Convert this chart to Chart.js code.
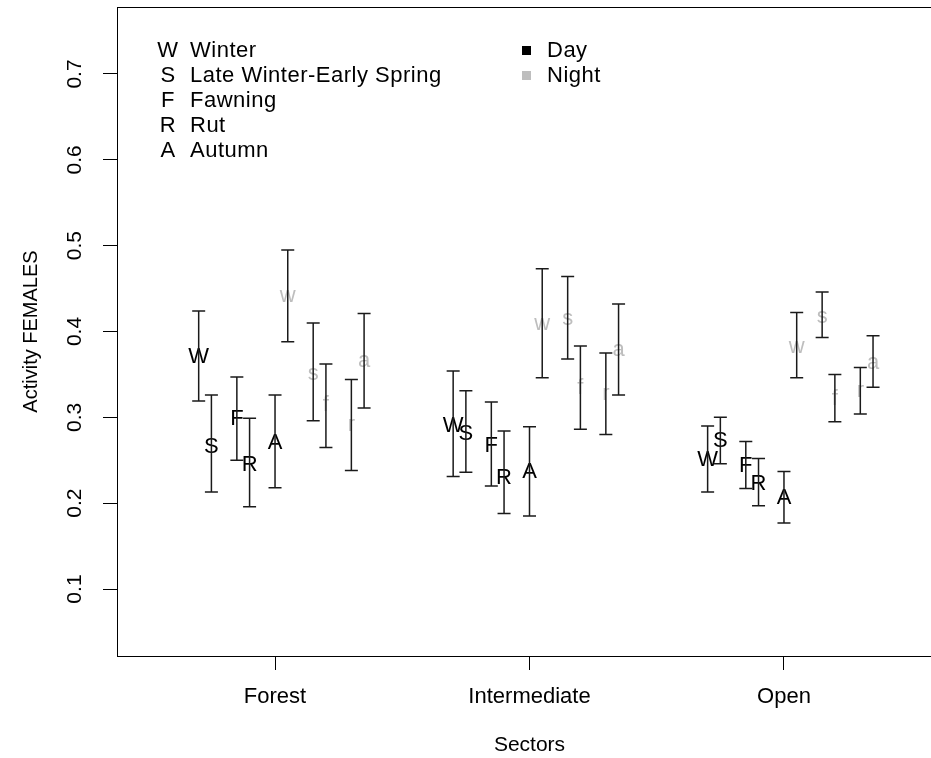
<!DOCTYPE html>
<html lang="en">
<head>
<meta charset="UTF-8">
<title>Activity FEMALES by sector</title>
<script src="https://cdn.jsdelivr.net/npm/chart.js"></script>
<style>
  html, body { margin: 0; padding: 0; background: #fff; overflow: hidden; }
  #wrap { width: 931px; height: 758px; overflow: hidden; }
</style>
</head>
<body>
<div id="wrap"><canvas id="chart" width="960" height="758"></canvas></div>
<script>
const sectors = ['Forest', 'Intermediate', 'Open'];
const seasonCodes = ['W', 'S', 'F', 'R', 'A'];
const seasonNames = ['Winter', 'Late Winter-Early Spring', 'Fawning', 'Rut', 'Autumn'];
const periods = ['Day', 'Night'];
const periodColors = ['#000000', '#bebebe'];
const yTicks = [0.1, 0.2, 0.3, 0.4, 0.5, 0.6, 0.7];

// horizontal shift of each season inside a sector
const dayOffset = [-0.3, -0.25, -0.15, -0.1, 0];
const nightOffset = [0.05, 0.15, 0.2, 0.3, 0.35];

// rows: W S F R A, columns: Forest Intermediate Open
const dayMean = [
  [0.370, 0.290, 0.250],
  [0.266, 0.281, 0.272],
  [0.298, 0.267, 0.243],
  [0.244, 0.230, 0.223],
  [0.270, 0.236, 0.206]
];
const dayLow = [
  [0.319, 0.231, 0.213],
  [0.213, 0.236, 0.246],
  [0.250, 0.220, 0.217],
  [0.196, 0.188, 0.197],
  [0.218, 0.185, 0.177]
];
const dayHigh = [
  [0.424, 0.354, 0.290],
  [0.326, 0.331, 0.300],
  [0.347, 0.318, 0.272],
  [0.299, 0.284, 0.252],
  [0.326, 0.289, 0.237]
];
const nightMean = [
  [0.441, 0.409, 0.382],
  [0.351, 0.415, 0.417],
  [0.314, 0.334, 0.322],
  [0.291, 0.327, 0.331],
  [0.366, 0.379, 0.363]
];
const nightLow = [
  [0.388, 0.346, 0.346],
  [0.296, 0.368, 0.393],
  [0.265, 0.286, 0.295],
  [0.238, 0.280, 0.304],
  [0.311, 0.326, 0.335]
];
const nightHigh = [
  [0.495, 0.473, 0.422],
  [0.410, 0.464, 0.446],
  [0.362, 0.383, 0.350],
  [0.344, 0.375, 0.358],
  [0.421, 0.432, 0.395]
];

const FONT = '"Liberation Sans", Arial, sans-serif';

function makeSet(code, offset, mean, low, high, color) {
  return {
    label: code,
    code: code,
    textColor: color,
    low: low,
    high: high,
    data: sectors.map((s, j) => ({ x: j + 1 + offset, y: mean[j] })),
    pointRadius: 0,
    showLine: false
  };
}

const datasets = [];
seasonCodes.forEach((c, i) => {
  datasets.push(makeSet(c, dayOffset[i], dayMean[i], dayLow[i], dayHigh[i], periodColors[0]));
});
seasonCodes.forEach((c, i) => {
  datasets.push(makeSet(c.toLowerCase(), nightOffset[i], nightMean[i], nightLow[i], nightHigh[i], periodColors[1]));
});

// letters at the means, then the error bars on top
const errorBars = {
  id: 'errorBars',
  afterDatasetsDraw(chart) {
    const ctx = chart.ctx;
    const y = chart.scales.y;
    ctx.save();
    ctx.font = '22px ' + FONT;
    ctx.textAlign = 'center';
    ctx.textBaseline = 'middle';
    chart.data.datasets.forEach((ds, i) => {
      ctx.fillStyle = ds.textColor;
      chart.getDatasetMeta(i).data.forEach(pt => ctx.fillText(ds.code, pt.x, pt.y));
    });
    ctx.strokeStyle = '#1a1a1a';
    ctx.lineWidth = 1.5;
    chart.data.datasets.forEach((ds, i) => {
      chart.getDatasetMeta(i).data.forEach((pt, j) => {
        const top = y.getPixelForValue(ds.high[j]);
        const bot = y.getPixelForValue(ds.low[j]);
        ctx.beginPath();
        ctx.moveTo(pt.x, top); ctx.lineTo(pt.x, bot);
        ctx.moveTo(pt.x - 6.5, top); ctx.lineTo(pt.x + 6.5, top);
        ctx.moveTo(pt.x - 6.5, bot); ctx.lineTo(pt.x + 6.5, bot);
        ctx.stroke();
      });
    });
    ctx.restore();
  }
};

// plot frame and the two-column legend
const frameLegend = {
  id: 'frameLegend',
  afterDraw(chart) {
    const ctx = chart.ctx;
    const a = chart.chartArea;
    ctx.save();
    ctx.strokeStyle = '#000';
    ctx.lineWidth = 1;
    ctx.strokeRect(Math.round(a.left) + 0.5, Math.round(a.top) + 0.5, a.right - a.left, a.bottom - a.top);

    ctx.font = '22px ' + FONT;
    ctx.letterSpacing = '0.5px';
    ctx.textBaseline = 'middle';
    ctx.fillStyle = '#000';
    seasonCodes.forEach((c, i) => {
      const yy = 51 + i * 25;
      ctx.textAlign = 'center';
      ctx.fillText(c, 168, yy);
      ctx.textAlign = 'left';
      ctx.fillText(seasonNames[i], 190, yy);
    });
    periods.forEach((p, i) => {
      const yy = 51 + i * 25;
      ctx.fillStyle = periodColors[i];
      ctx.fillRect(522, yy - 5, 9, 9);
      ctx.fillStyle = '#000';
      ctx.textAlign = 'left';
      ctx.fillText(p, 547, yy);
    });
    ctx.restore();
  }
};

new Chart(document.getElementById('chart'), {
  type: 'scatter',
  data: { datasets: datasets },
  options: {
    responsive: false,
    animation: false,
    devicePixelRatio: 1,
    layout: { padding: { left: 0, right: 18, top: 7, bottom: 0 } },
    plugins: { legend: { display: false }, tooltip: { enabled: false } },
    scales: {
      x: {
        type: 'linear',
        min: 0.379,
        max: 3.621,
        afterBuildTicks: s => { s.ticks = sectors.map((n, i) => ({ value: i + 1 })); },
        afterFit: s => { s.height = 102; s.paddingLeft = 0; s.paddingRight = 0; },
        border: { display: false },
        grid: { drawOnChartArea: false, drawTicks: true, tickLength: 14, color: '#000', tickColor: '#000' },
        ticks: {
          color: '#000',
          font: { family: FONT, size: 22 },
          padding: 14,
          maxRotation: 0,
          callback: v => sectors[Math.round(v) - 1]
        },
        title: {
          display: true,
          text: 'Sectors',
          color: '#000',
          font: { family: FONT, size: 21 },
          padding: { top: 0, bottom: 0 }
        }
      },
      y: {
        type: 'linear',
        min: 0.022,
        max: 0.778,
        afterBuildTicks: s => { s.ticks = yTicks.map(v => ({ value: v })); },
        afterFit: s => { s.width = 117; s.paddingTop = 0; s.paddingBottom = 0; },
        border: { display: false },
        grid: { drawOnChartArea: false, drawTicks: true, tickLength: 14, color: '#000', tickColor: '#000' },
        ticks: {
          color: '#000',
          font: { family: FONT, size: 21 },
          minRotation: 90,
          maxRotation: 90,
          crossAlign: 'center',
          padding: 13,
          callback: v => v.toFixed(1)
        },
        title: {
          display: true,
          text: 'Activity FEMALES',
          color: '#000',
          font: { family: FONT, size: 20 },
          padding: { top: 19, bottom: 0 }
        }
      }
    }
  },
  plugins: [errorBars, frameLegend]
});
</script>
</body>
</html>
